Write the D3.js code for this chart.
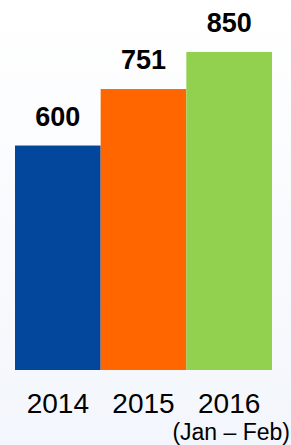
<!DOCTYPE html>
<html>
<head>
<meta charset="utf-8">
<script src="https://cdn.jsdelivr.net/npm/d3@7"></script>
<style>
  html, body { margin: 0; padding: 0; }
  body { width: 291px; height: 445px; overflow: hidden; }
</style>
</head>
<body>
<div id="chart"></div>
<script>
// data for the bars
const years = ["2014", "2015", "2016"];
const counts = [600, 751, 850];
const bar_colors = ["#02479b", "#ff6600", "#92d050"];
const sub_label = "(Jan \u2013 Feb)";

const width = 291;
const height = 445;
const margin = { top: 52, right: 19, bottom: 75, left: 15 };

const svg = d3.select("#chart")
  .append("svg")
  .attr("width", width)
  .attr("height", height);

// faint blue-ish background
const grad = svg.append("defs").append("linearGradient")
  .attr("id", "bg")
  .attr("x1", 0).attr("y1", 0).attr("x2", 0).attr("y2", 1);
grad.append("stop").attr("offset", "0%").attr("stop-color", "#ffffff");
grad.append("stop").attr("offset", "100%").attr("stop-color", "#f3f6fc");

svg.append("rect")
  .attr("width", width)
  .attr("height", height)
  .attr("fill", "url(#bg)");

// scales
const x = d3.scaleBand()
  .domain(years)
  .range([margin.left, width - margin.right])
  .padding(0);

const y = d3.scaleLinear()
  .domain([0, d3.max(counts)])
  .range([height - margin.bottom, margin.top]);

// bars
svg.selectAll(".bar")
  .data(counts)
  .enter()
  .append("rect")
  .attr("class", "bar")
  .attr("x", (d, i) => x(years[i]))
  .attr("y", d => y(d))
  .attr("width", x.bandwidth())
  .attr("height", d => y(0) - y(d))
  .attr("fill", (d, i) => bar_colors[i]);

// value labels over the bars
svg.selectAll(".val")
  .data(counts)
  .enter()
  .append("text")
  .attr("class", "val")
  .attr("x", (d, i) => x(years[i]) + x.bandwidth() / 2)
  .attr("y", d => y(d) - 20)
  .attr("text-anchor", "middle")
  .attr("font-family", "Liberation Sans, Arial, sans-serif")
  .attr("font-weight", "bold")
  .attr("font-size", "27px")
  .attr("fill", "#000")
  .text(d => d);

// year labels (no axis line)
const x_axis = svg.append("g")
  .attr("transform", `translate(0,${height - margin.bottom})`)
  .call(d3.axisBottom(x).tickSize(0).tickPadding(23));
x_axis.select(".domain").remove();
x_axis.selectAll("text")
  .attr("dy", "0.71em")
  .attr("font-family", "Liberation Sans, Arial, sans-serif")
  .attr("font-size", "28px")
  .attr("fill", "#000");

// note under the last year
svg.append("text")
  .attr("x", 290)
  .attr("y", 440)
  .attr("text-anchor", "end")
  .attr("font-family", "Liberation Sans, Arial, sans-serif")
  .attr("font-size", "23px")
  .attr("fill", "#000")
  .text(sub_label);
</script>
</body>
</html>
